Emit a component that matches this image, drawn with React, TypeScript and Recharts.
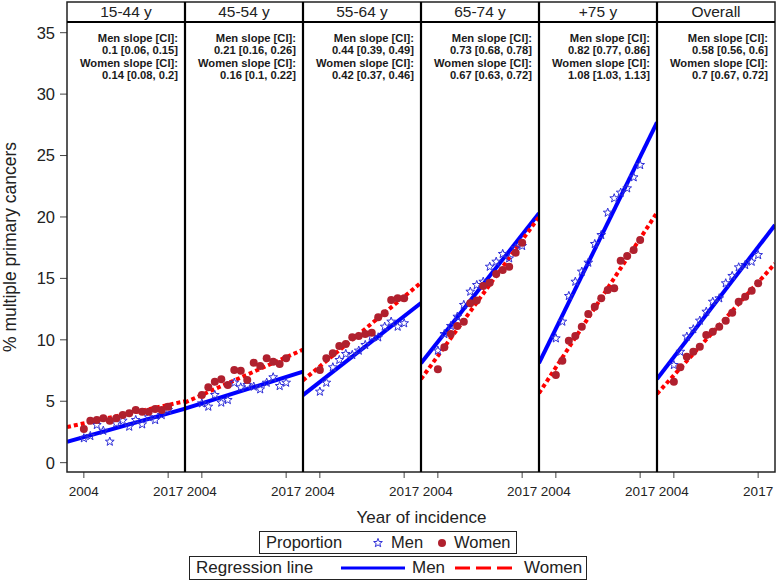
import { ComposedChart, Line, Scatter, XAxis, YAxis } from 'recharts';

const years = [2004, 2005, 2006, 2007, 2008, 2009, 2010, 2011, 2012, 2013, 2014, 2015, 2016, 2017];
const panelLabels = ['15-44 y', '45-54 y', '55-64 y', '65-74 y', '+75 y', 'Overall'];

// proportions (%)
const men1544 = [1.99, 2.17, 3.07, 2.6, 1.71, 3.2, 3.42, 2.93, 3.47, 3.12, 3.7, 3.47, 3.88, 4.29];
const women1544 = [2.74, 3.42, 3.48, 3.61, 3.42, 3.61, 3.88, 4.02, 4.29, 4.15, 4.15, 4.37, 4.29, 4.56];
const men4554 = [4.83, 4.56, 5.51, 4.89, 5.1, 6.51, 6.13, 6.32, 6.19, 5.97, 6.51, 6.95, 6.24, 6.51];
const women4554 = [5.51, 6.13, 6.59, 6.78, 6.32, 7.54, 7.49, 6.73, 8.14, 7.87, 8.5, 8.22, 8.03, 8.5];
const men5564 = [5.78, 6.51, 7.76, 8.36, 8.85, 8.77, 9.12, 9.58, 10.26, 10.2, 11.07, 11.48, 11.07, 11.35];
const women5564 = [7.54, 8.5, 8.9, 9.5, 9.66, 10.2, 10.31, 10.47, 10.58, 11.83, 12.16, 13.24, 13.38, 13.38];
const men6574 = [9.12, 10.47, 11.13, 11.88, 12.84, 13.92, 14.46, 14.73, 15.95, 16.36, 16.99, 16.63, 17.45, 17.64];
const women6574 = [7.6, 9.39, 10.47, 11.13, 11.48, 12.97, 13.19, 14.38, 14.65, 15.36, 15.68, 15.95, 17.09, 17.91];
const men75 = [10.12, 11.48, 13.57, 14.73, 15.55, 16.28, 17.8, 18.53, 20.35, 21.52, 21.98, 22.33, 23.23, 24.23];
const women75 = [7.14, 8.3, 9.93, 10.31, 11.07, 12.1, 12.7, 13.38, 14.06, 14.19, 16.44, 16.82, 17.31, 18.13];
const menAll = [7.95, 9.03, 10.26, 10.86, 11.56, 12.29, 13.1, 13.38, 14.6, 15.2, 15.9, 16.09, 16.36, 16.9];
const womenAll = [6.59, 7.76, 8.63, 9.03, 9.44, 10.39, 10.66, 11.07, 11.56, 12.21, 13.1, 13.51, 14.0, 14.6];

// regression lines, value at left and right edge of each panel
const lineYears = [2001.4, 2019.6];
const menLines = [[1.7, 4.4], [4.4, 7.4], [5.5, 13.0], [8.1, 20.3], [8.1, 27.7], [6.8, 19.35]];
const womenLines = [[2.9, 5.0], [4.9, 9.2], [6.7, 14.65], [6.8, 20.0], [5.65, 20.35], [5.6, 16.2]];

const menSlope = ['0.1 [0.06, 0.15]', '0.21 [0.16, 0.26]', '0.44 [0.39, 0.49]', '0.73 [0.68, 0.78]', '0.82 [0.77, 0.86]', '0.58 [0.56, 0.6]'];
const womenSlope = ['0.14 [0.08, 0.2]', '0.16 [0.1, 0.22]', '0.42 [0.37, 0.46]', '0.67 [0.63, 0.72]', '1.08 [1.03, 1.13]', '0.7 [0.67, 0.72]'];

const menProps = [men1544, men4554, men5564, men6574, men75, menAll];
const womenProps = [women1544, women4554, women5564, women6574, women75, womenAll];

const FONT = "'Liberation Sans', Arial, sans-serif";
const PLOT_LEFT = 67;
const PANEL_W = 118;
const STAR = '#2f2fd8';
const DOT = '#b0202e';

const Star = (props: any) => {
  const { cx, cy } = props;
  const pts: string[] = [];
  for (let k = 0; k < 10; k++) {
    const r = k % 2 === 0 ? 4.6 : 1.9;
    const a = -Math.PI / 2 + (k * Math.PI) / 5;
    pts.push(`${cx + r * Math.cos(a)},${cy + r * Math.sin(a)}`);
  }
  return <polygon points={pts.join(' ')} fill="none" stroke={STAR} strokeWidth={1} />;
};

const Dot = (props: any) => <circle cx={props.cx} cy={props.cy} r={4} fill={DOT} />;

function Panel({ idx }: { idx: number }) {
  const first = idx === 0;
  const left = first ? 0 : PLOT_LEFT + PANEL_W * idx;
  const width = first ? PLOT_LEFT + PANEL_W : PANEL_W;
  const men = years.map((x, i) => ({ x, y: menProps[idx][i] }));
  const women = years.map((x, i) => ({ x, y: womenProps[idx][i] }));
  const menLine = lineYears.map((x, i) => ({ x, y: menLines[idx][i] }));
  const womenLine = lineYears.map((x, i) => ({ x, y: womenLines[idx][i] }));

  return (
    <div style={{ position: 'absolute', left, top: 22 }}>
      <ComposedChart width={width} height={490} margin={{ top: 0, right: 0, bottom: 0, left: 0 }}>
        <XAxis
          type="number"
          dataKey="x"
          domain={[2001.4, 2019.6]}
          ticks={[2004, 2017]}
          allowDataOverflow
          height={40}
          axisLine={false}
          tickSize={6}
          tickMargin={8}
          tick={{ fontSize: 13.5, fill: '#222', fontFamily: FONT }}
          tickLine={{ stroke: '#444' }}
        />
        <YAxis
          type="number"
          dataKey="y"
          domain={[-0.76, 35.87]}
          ticks={[0, 5, 10, 15, 20, 25, 30, 35]}
          allowDataOverflow
          hide={!first}
          width={PLOT_LEFT}
          axisLine={false}
          tickSize={7}
          tickMargin={5}
          tick={{ fontSize: 16.5, fill: '#222', fontFamily: FONT }}
          tickLine={{ stroke: '#444' }}
        />
        <Scatter data={men} dataKey="y" shape={Star} isAnimationActive={false} />
        <Scatter data={women} dataKey="y" shape={Dot} isAnimationActive={false} />
        <Line data={menLine} dataKey="y" stroke="#0000ff" strokeWidth={4} dot={false} isAnimationActive={false} />
        <Line
          data={womenLine}
          dataKey="y"
          stroke="#ff0000"
          strokeWidth={4}
          strokeDasharray="4 3"
          dot={false}
          isAnimationActive={false}
        />
      </ComposedChart>
    </div>
  );
}

function Frame() {
  const right = PLOT_LEFT + PANEL_W * 6;
  return (
    <svg width={777} height={480} style={{ position: 'absolute', left: 0, top: 0, pointerEvents: 'none' }}>
      <rect x={PLOT_LEFT} y={2} width={right - PLOT_LEFT} height={470} fill="none" stroke="#222" strokeWidth={1.5} />
      <line x1={PLOT_LEFT} x2={right} y1={22} y2={22} stroke="#000" strokeWidth={2} />
      {[1, 2, 3, 4, 5].map((i) => (
        <line key={i} x1={PLOT_LEFT + PANEL_W * i} x2={PLOT_LEFT + PANEL_W * i} y1={2} y2={472} stroke="#000" strokeWidth={2.2} />
      ))}
    </svg>
  );
}

const slopeLine = (top: number) => ({
  position: 'absolute' as const,
  top,
  right: 0,
  whiteSpace: 'nowrap' as const,
  lineHeight: '12px',
});

export default function App() {
  return (
    <div style={{ position: 'absolute', left: 0, top: 0, width: 777, height: 580, background: '#fff', fontFamily: FONT, color: '#222' }}>
      {panelLabels.map((_, i) => (
        <Panel key={i} idx={i} />
      ))}
      <Frame />
      {panelLabels.map((lab, i) => (
        <div
          key={lab}
          style={{ position: 'absolute', left: PLOT_LEFT + PANEL_W * i, top: 2, width: PANEL_W, height: 20, lineHeight: '20px', textAlign: 'center', fontSize: 15.5 }}
        >
          {lab}
        </div>
      ))}
      {panelLabels.map((lab, i) => (
        <div
          key={'s' + lab}
          style={{ position: 'absolute', left: PLOT_LEFT + PANEL_W * i, top: 32, width: PANEL_W - 7, height: 50, fontSize: 11.2, fontWeight: 'bold', color: '#1a1a1a' }}
        >
          <div style={slopeLine(0)}>Men slope [CI]:</div>
          <div style={slopeLine(12.4)}>{menSlope[i]}</div>
          <div style={slopeLine(24.8)}>Women slope [CI]:</div>
          <div style={slopeLine(37.2)}>{womenSlope[i]}</div>
        </div>
      ))}
      <div
        style={{ position: 'absolute', left: 10 - 150, top: 247 - 11, width: 300, height: 22, lineHeight: '22px', textAlign: 'center', fontSize: 17.5, transform: 'rotate(-90deg)' }}
      >
        % multiple primary cancers
      </div>
      <div style={{ position: 'absolute', left: 0, top: 507, width: 843, textAlign: 'center', fontSize: 17, lineHeight: '22px' }}>
        Year of incidence
      </div>
      <div style={{ position: 'absolute', left: 259, top: 531, width: 256, height: 21, border: '1px solid #222', fontSize: 16.5, lineHeight: '21px' }}>
        <span style={{ position: 'absolute', left: 6 }}>Proportion</span>
        <svg width={12} height={12} style={{ position: 'absolute', left: 112, top: 5 }}>
          <Star cx={6} cy={6} />
        </svg>
        <span style={{ position: 'absolute', left: 131 }}>Men</span>
        <svg width={12} height={12} style={{ position: 'absolute', left: 176, top: 5 }}>
          <Dot cx={6} cy={6} />
        </svg>
        <span style={{ position: 'absolute', left: 194 }}>Women</span>
      </div>
      <div style={{ position: 'absolute', left: 189, top: 556, width: 396, height: 22, border: '1px solid #222', fontSize: 17, lineHeight: '22px' }}>
        <span style={{ position: 'absolute', left: 6 }}>Regression line</span>
        <svg width={64} height={8} style={{ position: 'absolute', left: 151, top: 7 }}>
          <line x1={0} x2={64} y1={4} y2={4} stroke="#0000ff" strokeWidth={3} />
        </svg>
        <span style={{ position: 'absolute', left: 222 }}>Men</span>
        <svg width={62} height={8} style={{ position: 'absolute', left: 265, top: 7 }}>
          <line x1={0} x2={62} y1={4} y2={4} stroke="#ff0000" strokeWidth={3} strokeDasharray="15 6" />
        </svg>
        <span style={{ position: 'absolute', left: 334 }}>Women</span>
      </div>
    </div>
  );
}
